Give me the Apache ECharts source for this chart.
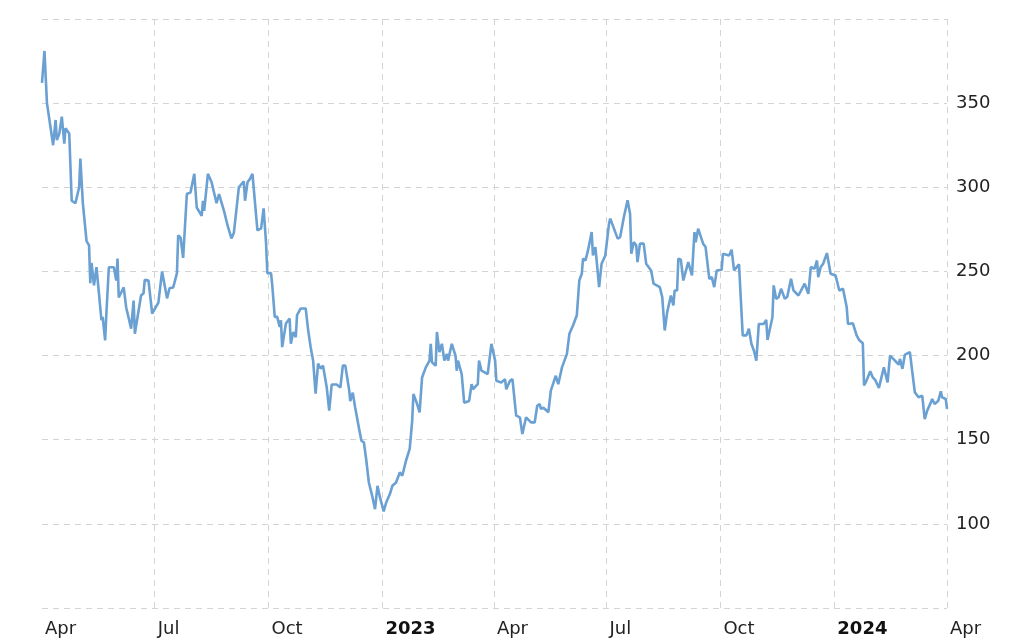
<!DOCTYPE html>
<html>
<head>
<meta charset="utf-8">
<script src="https://cdn.jsdelivr.net/npm/echarts@6/dist/echarts.min.js"></script>
<style>
html,body{margin:0;padding:0;background:#fff;}
#chart{width:1024px;height:641px;}
</style>
</head>
<body>
<div id="chart"></div>
<script>
const dates = [
'2022-04-01','2022-04-03','2022-04-05','2022-04-06','2022-04-10','2022-04-12','2022-04-13','2022-04-15','2022-04-17','2022-04-19',
'2022-04-20','2022-04-23','2022-04-25','2022-04-28','2022-05-01','2022-05-02','2022-05-04','2022-05-07','2022-05-09','2022-05-10',
'2022-05-11','2022-05-13','2022-05-15','2022-05-17','2022-05-19','2022-05-20','2022-05-22','2022-05-23','2022-05-25','2022-05-29',
'2022-05-31','2022-06-01','2022-06-02','2022-06-06','2022-06-08','2022-06-12','2022-06-14','2022-06-15','2022-06-20','2022-06-22',
'2022-06-23','2022-06-26','2022-06-29','2022-07-04','2022-07-07','2022-07-11','2022-07-13','2022-07-16','2022-07-19','2022-07-20',
'2022-07-22','2022-07-24','2022-07-27','2022-07-30','2022-08-02','2022-08-04','2022-08-08','2022-08-09','2022-08-10','2022-08-13',
'2022-08-16','2022-08-20','2022-08-22','2022-08-26','2022-08-29','2022-09-01','2022-09-03','2022-09-07','2022-09-11','2022-09-12',
'2022-09-14','2022-09-16','2022-09-18','2022-09-22','2022-09-25','2022-09-27','2022-09-29','2022-09-30','2022-10-03','2022-10-04',
'2022-10-06','2022-10-08','2022-10-10','2022-10-11','2022-10-12','2022-10-15','2022-10-18','2022-10-19','2022-10-21','2022-10-23',
'2022-10-24','2022-10-27','2022-10-31','2022-11-02','2022-11-04','2022-11-06','2022-11-08','2022-11-10','2022-11-12','2022-11-14',
'2022-11-17','2022-11-19','2022-11-21','2022-11-25','2022-11-28','2022-11-30','2022-12-02','2022-12-05','2022-12-06','2022-12-08',
'2022-12-10','2022-12-13','2022-12-15','2022-12-17','2022-12-19','2022-12-21','2022-12-24','2022-12-26','2022-12-28','2022-12-30',
'2023-01-02','2023-01-04','2023-01-07','2023-01-09','2023-01-12','2023-01-15','2023-01-17','2023-01-20','2023-01-23','2023-01-25',
'2023-01-26','2023-01-29','2023-01-31','2023-02-02','2023-02-05','2023-02-08','2023-02-09','2023-02-10','2023-02-13','2023-02-14',
'2023-02-16','2023-02-18','2023-02-20','2023-02-22','2023-02-23','2023-02-26','2023-03-01','2023-03-02','2023-03-03','2023-03-06',
'2023-03-08','2023-03-12','2023-03-14','2023-03-15','2023-03-19','2023-03-20','2023-03-22','2023-03-27','2023-03-30','2023-04-02',
'2023-04-03','2023-04-07','2023-04-10','2023-04-11','2023-04-14','2023-04-16','2023-04-19','2023-04-22','2023-04-24','2023-04-27',
'2023-05-01','2023-05-04','2023-05-06','2023-05-08','2023-05-09','2023-05-11','2023-05-15','2023-05-17','2023-05-21','2023-05-23',
'2023-05-26','2023-05-30','2023-06-01','2023-06-04','2023-06-07','2023-06-09','2023-06-11','2023-06-12','2023-06-14','2023-06-16',
'2023-06-19','2023-06-20','2023-06-22','2023-06-25','2023-06-27','2023-06-30','2023-07-03','2023-07-04','2023-07-10','2023-07-12',
'2023-07-15','2023-07-18','2023-07-20','2023-07-21','2023-07-23','2023-07-25','2023-07-26','2023-07-28','2023-07-31','2023-08-02',
'2023-08-06','2023-08-08','2023-08-09','2023-08-13','2023-08-15','2023-08-17','2023-08-19','2023-08-22','2023-08-24','2023-08-25',
'2023-08-27','2023-08-28','2023-08-30','2023-09-01','2023-09-05','2023-09-08','2023-09-10','2023-09-11','2023-09-13','2023-09-17',
'2023-09-19','2023-09-22','2023-09-24','2023-09-26','2023-09-28','2023-10-02','2023-10-03','2023-10-08','2023-10-10','2023-10-12',
'2023-10-16','2023-10-19','2023-10-22','2023-10-24','2023-10-26','2023-10-28','2023-10-30','2023-11-01','2023-11-05','2023-11-07',
'2023-11-08','2023-11-12','2023-11-13','2023-11-15','2023-11-17','2023-11-19','2023-11-22','2023-11-24','2023-11-27','2023-11-29',
'2023-12-03','2023-12-08','2023-12-11','2023-12-13','2023-12-16','2023-12-18','2023-12-19','2023-12-21','2023-12-23','2023-12-26',
'2023-12-29','2024-01-02','2024-01-05','2024-01-08','2024-01-11','2024-01-12','2024-01-16','2024-01-19','2024-01-21','2024-01-24',
'2024-01-25','2024-01-27','2024-01-30','2024-02-01','2024-02-03','2024-02-06','2024-02-10','2024-02-13','2024-02-15','2024-02-19',
'2024-02-22','2024-02-23','2024-02-25','2024-02-27','2024-03-02','2024-03-04','2024-03-06','2024-03-09','2024-03-12','2024-03-14',
'2024-03-16','2024-03-19','2024-03-20','2024-03-22','2024-03-25','2024-03-27','2024-03-28','2024-03-31','2024-04-01'
];
const prices = [
362,381,350,351,325,340,328,332,342,326,
335,332,292,290.5,300,317,290.5,268,265.5,243,
255,241.7,252.5,237,221,223,209,225,252.5,252.5,
244.6,257.7,234.5,240.5,228.6,216,232.7,213,235.7,237,
245,244.6,225,231.5,250,234,240,240.5,249,271.4,
270,258,296,297,308,288,283,292,286,308,
303,290.5,296,286,277,269.6,273,300,303.6,292,
303,305,308,274.4,275.6,287.5,266.7,249,249,241.7,
223,223,217,221,205,219,222,207,214,211,
224,228,228,215,205,197,177.4,195.2,192.3,194,
181,167.3,182.8,182.8,181,194,194,180,173,178,
169,157,149.4,148.4,137.5,124.6,115.7,108.7,122.6,115.7,
107.4,112.7,117.7,122.6,124.6,130.6,128.6,137.5,144.5,161,
177.2,171.2,166.3,187,193,197,207,196,194,214,
202,207,197,201,197,207,200,191,197,189,
172,173,183,180,183,197,191,189,207,197,
185,184,186,180,185,186,164.3,163.3,153.4,163.3,
160.3,160.3,170.2,171.2,168.3,169,166.3,179.2,188,183,
193,201,213,218,224,244.6,248.6,257.6,256.5,262.5,
273.4,259.5,264.5,240.7,254.6,259.5,278.4,281.4,269.5,270.4,
282.3,292.3,284.3,260.5,267.4,265.5,255.5,266.5,266.5,254.6,
250.6,242.7,243.6,240.7,234.7,214.9,225.8,235.7,229.8,238.7,
238.7,257.6,257,244.6,255.5,247.6,273.4,267.4,275.4,266.5,
264.5,245.6,246.6,240.7,250.6,251,260.5,259.5,262.9,250.6,
254.2,212,212,216,207,203,197,218.8,218.8,221.2,
209.3,222.8,241.7,233.7,234.7,239.7,233.7,235,245.6,238.7,
235.7,242.7,236.7,252.6,251.6,256.5,246.6,252.6,254.6,260.9,
248.6,247.6,238.7,239.7,228.7,218.8,219.2,212,209.3,207.3,
182.2,185.1,190.7,187.1,185.5,180.8,193,184.1,200,197,
194.6,198,192.1,200.6,202,190.1,178.2,175.2,176.2,162.3,
167.3,172.2,174.2,171.2,173.2,178.8,175.2,174.2,168.3
];
const axisStart = '2022-04-01';
const axisEnd = '2024-04-01';
const monthNames = ['Jan','Feb','Mar','Apr','May','Jun','Jul','Aug','Sep','Oct','Nov','Dec'];
const yMin = 50, yMax = 400, yStep = 50;

const DAY = 86400000;
const GRID_COLOR = '#d4d4d4';
const xLineColors = ['rgba(0,0,0,0)', GRID_COLOR, GRID_COLOR, GRID_COLOR, GRID_COLOR, GRID_COLOR, GRID_COLOR, GRID_COLOR, GRID_COLOR];
const seriesData = dates.map((d, i) => [d, prices[i]]);
const chart = echarts.init(document.getElementById('chart'), null, {renderer: 'canvas'});
chart.setOption({
  animation: false,
  backgroundColor: '#ffffff',
  grid: {left: 42, right: 77, top: 19, bottom: 33, containLabel: false},
  xAxis: {
    type: 'time',
    min: axisStart,
    max: axisEnd,
    splitNumber: 8,
    minInterval: 89 * DAY,
    maxInterval: 93 * DAY,
    axisLine: {show: false},
    axisTick: {show: false},
    axisLabel: {
      show: true,
      hideOverlap: false,
      showMinLabel: true,
      showMaxLabel: true,
      align: 'left',
      margin: 12,
      padding: [0, 0, 0, 3],
      fontFamily: 'DejaVu Sans',
      fontSize: 18,
      color: '#222',
      formatter: function (val) {
        const d = new Date(val);
        const m = d.getMonth();
        if (m === 0) return '{b|' + d.getFullYear() + '}';
        return monthNames[m];
      },
      rich: {
        b: {fontWeight: 'bold', fontFamily: 'DejaVu Sans', fontSize: 18, color: '#111'}
      }
    },
    splitLine: {
      show: true,
      showMinLine: false,
      lineStyle: {color: xLineColors, width: 1, type: [6, 5]}
    }
  },
  yAxis: {
    type: 'value',
    position: 'right',
    min: yMin,
    max: yMax,
    interval: yStep,
    axisLine: {show: false},
    axisTick: {show: false},
    axisLabel: {
      showMinLabel: false,
      showMaxLabel: false,
      margin: 9,
      fontFamily: 'DejaVu Sans',
      fontSize: 18,
      color: '#222'
    },
    splitLine: {
      show: true,
      lineStyle: {color: GRID_COLOR, width: 1, type: [6, 5]}
    }
  },
  series: [{
    type: 'line',
    data: seriesData,
    showSymbol: false,
    symbol: 'none',
    lineStyle: {color: '#6aa0d2', width: 2.6},
    clip: false
  }]
});
</script>
</body>
</html>
